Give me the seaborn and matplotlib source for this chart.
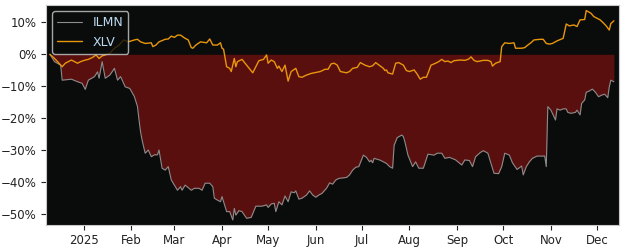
import matplotlib
matplotlib.use("Agg")
import matplotlib.pyplot as plt
import matplotlib.dates as mdates
from matplotlib.ticker import FuncFormatter, FixedLocator
import pandas as pd
import seaborn as sns

# ---------------- data (percent change since start) ----------------
ilmn_dates = [
    "2024-12-10", "2024-12-13", "2024-12-17", "2024-12-18", "2024-12-24", "2024-12-28", "2024-12-31",
    "2025-01-02", "2025-01-04", "2025-01-08", "2025-01-10", "2025-01-11", "2025-01-13", "2025-01-15",
    "2025-01-18", "2025-01-21", "2025-01-23", "2025-01-25", "2025-01-27", "2025-01-28", "2025-01-31",
    "2025-02-03", "2025-02-05", "2025-02-06", "2025-02-07", "2025-02-08", "2025-02-10", "2025-02-12",
    "2025-02-14", "2025-02-16", "2025-02-18", "2025-02-19", "2025-02-21", "2025-02-23", "2025-02-25",
    "2025-02-27", "2025-03-01", "2025-03-03", "2025-03-05", "2025-03-06", "2025-03-08", "2025-03-10",
    "2025-03-12", "2025-03-14", "2025-03-17", "2025-03-19", "2025-03-21", "2025-03-24", "2025-03-26",
    "2025-03-27", "2025-03-29", "2025-03-31", "2025-04-01", "2025-04-03", "2025-04-04", "2025-04-06",
    "2025-04-08", "2025-04-09", "2025-04-10", "2025-04-12", "2025-04-14", "2025-04-17", "2025-04-20",
    "2025-04-23", "2025-04-27", "2025-04-30", "2025-05-01", "2025-05-03", "2025-05-05", "2025-05-06",
    "2025-05-08", "2025-05-10", "2025-05-12", "2025-05-14", "2025-05-16", "2025-05-18", "2025-05-19",
    "2025-05-21", "2025-05-23", "2025-05-26", "2025-05-28", "2025-05-30", "2025-06-01", "2025-06-03",
    "2025-06-05", "2025-06-08", "2025-06-10", "2025-06-12", "2025-06-14", "2025-06-16", "2025-06-21",
    "2025-06-23", "2025-06-25", "2025-06-27", "2025-06-29", "2025-07-02", "2025-07-04", "2025-07-06",
    "2025-07-07", "2025-07-08", "2025-07-09", "2025-07-13", "2025-07-15", "2025-07-17", "2025-07-19",
    "2025-07-21", "2025-07-22", "2025-07-24", "2025-07-27", "2025-07-28", "2025-07-29", "2025-07-31",
    "2025-08-03", "2025-08-05", "2025-08-07", "2025-08-10", "2025-08-13", "2025-08-17", "2025-08-19",
    "2025-08-22", "2025-08-24", "2025-08-27", "2025-08-31", "2025-09-04", "2025-09-06", "2025-09-09",
    "2025-09-11", "2025-09-13", "2025-09-16", "2025-09-18", "2025-09-21", "2025-09-23", "2025-09-25",
    "2025-09-28", "2025-09-30", "2025-10-02", "2025-10-05", "2025-10-07", "2025-10-10", "2025-10-13",
    "2025-10-14", "2025-10-16", "2025-10-18", "2025-10-20", "2025-10-23", "2025-10-28", "2025-10-29",
    "2025-10-30", "2025-11-01", "2025-11-02", "2025-11-04", "2025-11-05", "2025-11-07", "2025-11-09",
    "2025-11-11", "2025-11-12", "2025-11-14", "2025-11-17", "2025-11-18", "2025-11-20", "2025-11-21",
    "2025-11-23", "2025-11-24", "2025-11-26", "2025-11-28", "2025-11-30", "2025-12-02", "2025-12-04",
    "2025-12-06", "2025-12-08", "2025-12-09", "2025-12-10", "2025-12-12",
]
ilmn_values = [
    0.0, -2.3, -3.4, -8.1, -7.8, -8.6, -9.1,
    -11.0, -8.1, -7.0, -5.5, -7.5, -2.3, -7.5,
    -6.5, -4.4, -8.1, -7.0, -9.1, -10.2, -10.7,
    -13.3, -16.4, -20.6, -24.3, -26.9, -31.0, -30.0,
    -32.1, -31.5, -31.5, -30.0, -35.7, -36.3, -35.2,
    -39.4, -41.0, -42.6, -41.5, -42.6, -41.0, -41.8,
    -42.6, -42.0, -42.0, -42.6, -40.4, -40.4, -41.5,
    -45.1, -45.7, -46.2, -44.6, -47.8, -49.3, -49.3,
    -51.9, -48.3, -50.4, -49.0, -49.3, -51.4, -51.1,
    -47.6, -47.6, -47.2, -48.0, -46.9, -46.7, -49.3,
    -46.2, -47.2, -44.4, -46.2, -43.1, -43.4, -42.8,
    -45.4, -45.1, -44.1, -42.8, -44.1, -44.8, -44.1,
    -43.6, -42.0, -40.3, -40.7, -39.4, -38.9, -38.6,
    -37.8, -36.3, -35.4, -35.2, -31.6, -32.3, -33.7,
    -33.2, -34.0, -32.6, -33.2, -33.7, -34.2, -35.2,
    -35.7, -28.5, -26.1, -25.3, -25.8, -27.4, -31.6,
    -35.2, -33.7, -35.7, -35.7, -31.3, -31.6, -31.0,
    -31.0, -32.6, -32.3, -33.1, -34.7, -33.1, -33.3,
    -35.2, -32.1, -30.8, -30.2, -31.0, -34.2, -37.3,
    -37.4, -35.2, -31.0, -31.6, -34.0, -36.1, -35.0,
    -37.8, -35.2, -33.7, -32.6, -31.9, -31.9, -35.2,
    -16.4, -17.5, -18.5, -20.6, -17.1, -17.5, -17.1,
    -17.1, -18.2, -18.5, -18.2, -17.5, -19.0, -15.4,
    -14.3, -11.9, -11.5, -10.9, -11.9, -13.3, -12.8,
    -12.5, -13.6, -10.2, -8.1, -8.6,
]

xlv_dates = [
    "2024-12-10", "2024-12-13", "2024-12-15", "2024-12-18", "2024-12-20", "2024-12-24", "2024-12-26",
    "2024-12-28", "2024-12-30", "2025-01-02", "2025-01-04", "2025-01-07", "2025-01-09", "2025-01-11",
    "2025-01-13", "2025-01-15", "2025-01-18", "2025-01-21", "2025-01-24", "2025-01-27", "2025-01-30",
    "2025-02-03", "2025-02-05", "2025-02-07", "2025-02-10", "2025-02-14", "2025-02-15", "2025-02-17",
    "2025-02-19", "2025-02-23", "2025-02-25", "2025-02-27", "2025-03-01", "2025-03-03", "2025-03-05",
    "2025-03-08", "2025-03-10", "2025-03-12", "2025-03-13", "2025-03-15", "2025-03-18", "2025-03-22",
    "2025-03-24", "2025-03-26", "2025-03-29", "2025-03-31", "2025-04-01", "2025-04-02", "2025-04-04",
    "2025-04-06", "2025-04-07", "2025-04-09", "2025-04-10", "2025-04-11", "2025-04-14", "2025-04-17",
    "2025-04-21", "2025-04-23", "2025-04-25", "2025-04-28", "2025-04-30", "2025-05-01", "2025-05-03",
    "2025-05-05", "2025-05-07", "2025-05-08", "2025-05-10", "2025-05-12", "2025-05-14", "2025-05-16",
    "2025-05-19", "2025-05-21", "2025-05-23", "2025-05-26", "2025-05-29", "2025-05-31", "2025-06-04",
    "2025-06-07", "2025-06-09", "2025-06-11", "2025-06-13", "2025-06-15", "2025-06-17", "2025-06-21",
    "2025-06-23", "2025-06-25", "2025-06-28", "2025-06-30", "2025-07-03", "2025-07-06", "2025-07-08",
    "2025-07-10", "2025-07-13", "2025-07-15", "2025-07-16", "2025-07-17", "2025-07-18", "2025-07-21",
    "2025-07-23", "2025-07-25", "2025-07-28", "2025-07-30", "2025-08-01", "2025-08-04", "2025-08-06",
    "2025-08-08", "2025-08-10", "2025-08-12", "2025-08-13", "2025-08-15", "2025-08-18", "2025-08-20",
    "2025-08-22", "2025-08-24", "2025-08-26", "2025-08-28", "2025-08-30", "2025-09-03", "2025-09-06",
    "2025-09-08", "2025-09-09", "2025-09-10", "2025-09-12", "2025-09-14", "2025-09-18", "2025-09-21",
    "2025-09-23", "2025-09-24", "2025-09-26", "2025-09-29", "2025-09-30", "2025-10-02", "2025-10-05",
    "2025-10-08", "2025-10-09", "2025-10-13", "2025-10-15", "2025-10-17", "2025-10-19", "2025-10-21",
    "2025-10-25", "2025-10-27", "2025-10-29", "2025-10-31", "2025-11-02", "2025-11-05", "2025-11-09",
    "2025-11-11", "2025-11-13", "2025-11-16", "2025-11-18", "2025-11-20", "2025-11-23", "2025-11-24",
    "2025-11-27", "2025-11-29", "2025-12-03", "2025-12-05", "2025-12-07", "2025-12-09", "2025-12-10",
    "2025-12-12",
]
xlv_values = [
    0.0, -1.3, -2.3, -3.9, -2.8, -1.8, -2.3,
    -2.8, -2.3, -1.8, -1.6, -0.9, -0.2, -1.3,
    -0.5, -0.2, 0.3, 1.9, 2.9, 4.5, 3.9,
    4.5, 4.7, 3.9, 3.4, 3.6, 2.4, 2.9,
    3.9, 4.7, 4.8, 5.7, 5.3, 6.0, 6.0,
    5.0, 4.5, 2.1, 1.9, 2.9, 3.9, 3.6,
    4.8, 2.9, 2.9, 3.6, 1.9, 1.6, -3.9,
    -4.4, -5.4, -1.3, -3.9, -2.3, -1.6, -3.4,
    -5.8, -3.9, -2.0, -1.6, -0.2, -2.8, -1.8,
    -2.3, -4.4, -3.7, -5.4, -3.4, -8.4, -5.4,
    -4.4, -7.0, -7.2, -6.5, -6.0, -5.8, -5.4,
    -4.7, -4.7, -3.0, -2.8, -3.4, -5.4, -5.8,
    -5.4, -4.4, -4.1, -2.6, -3.4, -3.9, -3.6,
    -2.6, -3.7, -4.4, -5.1, -4.9, -5.8, -6.2,
    -2.8, -2.6, -3.4, -5.1, -5.4, -4.9, -6.2,
    -7.8, -7.2, -7.2, -6.0, -3.4, -2.8, -2.3,
    -1.6, -2.3, -2.1, -2.6, -2.0, -1.8, -1.9,
    -1.6, -1.3, -0.8, -1.9, -2.3, -1.9, -1.9,
    -2.3, -3.7, -2.8, -2.3, 2.4, 3.6, 3.4,
    3.6, 1.9, 1.9, 2.1, 2.9, 3.6, 4.5,
    4.7, 4.7, 3.4, 3.2, 3.4, 4.2, 5.0,
    9.5, 8.9, 9.2, 8.7, 10.8, 10.9, 13.7,
    12.9, 11.8, 10.8, 9.9, 8.9, 7.6, 9.6,
    10.5,
]

series_labels = ["ILMN", "XLV"]
ytick_values = [-50, -40, -30, -20, -10, 0, 10]

# ---------------- build frames ----------------
ilmn = pd.DataFrame({"date": pd.to_datetime(ilmn_dates), "pct": ilmn_values})
xlv = pd.DataFrame({"date": pd.to_datetime(xlv_dates), "pct": xlv_values})

# ---------------- styling ----------------
sns.set_theme(style="white")
plt.rcParams["font.family"] = ["DejaVu Sans"]

fig = plt.figure(figsize=(6.25, 2.5), dpi=100)
fig.patch.set_facecolor("white")
ax = fig.add_axes([46 / 625, 25 / 250, (619 - 46) / 625, (225 - 5) / 250])
ax.set_facecolor("#0a0c0b")

fill_color = "#5a0f0f"
ilmn_color = "#8c8c8c"
xlv_color = "#e8960c"

ax.fill_between(ilmn["date"], 0, ilmn["pct"], color=fill_color, linewidth=0, zorder=1)
sns.lineplot(data=ilmn, x="date", y="pct", ax=ax, color=ilmn_color, linewidth=0.8,
             label=series_labels[0], zorder=3)
sns.lineplot(data=xlv, x="date", y="pct", ax=ax, color=xlv_color, linewidth=1.0,
             label=series_labels[1], zorder=4)

ax.set_xlim(pd.Timestamp("2024-12-07 11:00"), pd.Timestamp("2025-12-15 08:00"))
ax.set_ylim(-53.5, 15.45)

ax.xaxis.set_major_locator(mdates.MonthLocator())


def xfmt(v, pos):
    d = mdates.num2date(v)
    return str(d.year) if d.month == 1 else d.strftime("%b")


ax.xaxis.set_major_formatter(FuncFormatter(xfmt))
ax.yaxis.set_major_locator(FixedLocator(ytick_values))
ax.yaxis.set_major_formatter(FuncFormatter(
    lambda v, p: ("\u2212" if v < 0 else "") + f"{abs(v):.0f}%"))

ax.set_xlabel("")
ax.set_ylabel("")
ax.tick_params(axis="both", which="major", labelsize=8.5, colors="#222222",
               length=3.5, width=0.8, pad=3, left=True, bottom=True, direction="out")
for s in ax.spines.values():
    s.set_color("#c8c8c8")
    s.set_linewidth(0.8)

leg = ax.legend(loc="upper left", fontsize=9, frameon=True, facecolor="#0a0c0b",
                edgecolor="#cccccc", framealpha=0.8, fancybox=True)
for t in leg.get_texts():
    t.set_color("#bcd8f0")

fig.savefig("out.png", dpi=100, facecolor="white")
